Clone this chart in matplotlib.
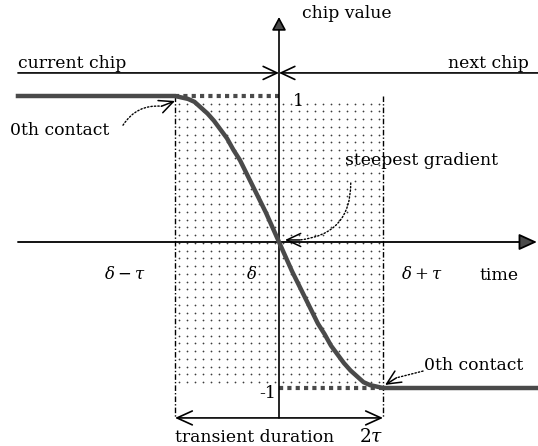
import matplotlib
matplotlib.use("Agg")
import matplotlib.pyplot as plt
import numpy as np

plt.rcParams['font.family'] = ['DejaVu Serif']
plt.rcParams['mathtext.fontset'] = 'dejavuserif'

# chip value sampled every tau/16 across the transition (delta at t=0)
t_edge = np.linspace(-1.0, 1.0, 33)
chip_edge = [1.00, 0.99, 0.98, 0.96, 0.92, 0.88, 0.83, 0.77, 0.71, 0.63, 0.56, 0.47,
             0.38, 0.29, 0.20, 0.10, 0.00, -0.10, -0.20, -0.29, -0.38, -0.47, -0.56,
             -0.63, -0.71, -0.77, -0.83, -0.88, -0.92, -0.96, -0.98, -0.99, -1.00]
t_start, t_end = -2.51, 2.49

tick_labels = [r'$\delta-\tau$', r'$\delta$', r'$\delta+\tau$']
level_labels = ['1', '-1']
chip_level = 1.158

t_curve = [t_start] + list(t_edge) + [t_end]
chip_curve = [chip_edge[0]] + chip_edge + [chip_edge[-1]]

fig = plt.figure(figsize=(5.38, 4.46), dpi=100)
ax = fig.add_axes([0, 0, 1, 1])
ax.set_xlim(-279 / 104, 259 / 104)
ax.set_ylim(-204 / 146, 242 / 146)
ax.axis('off')

ink = '#4a4a4a'
FS = 12.4

# dot screen over the transient region
gx, gy = np.meshgrid(np.arange(-0.96, 1.0, 0.077), np.arange(-0.96, 1.0, 0.053))
ax.scatter(gx.ravel(), gy.ravel(), s=1.6, color='#3c3c3c', linewidths=0)

# dash-dot borders of the transient region
for t in (-1.0, 1.0):
    ax.plot([t, t], [1.0, -1.205], color='black', lw=1.0, ls=(0, (4, 1.5, 1, 1.5)))

# thick dotted levels
ax.plot([-1.0, 0.0], [1.0, 1.0], color=ink, lw=3, ls=(0, (1, 1)), solid_capstyle='butt')
ax.plot([0.0, 1.0], [-1.0, -1.0], color=ink, lw=3, ls=(0, (1, 1)), solid_capstyle='butt')

# axes
ax.annotate('', xy=(2.48, 0), xytext=(t_start, 0),
            arrowprops=dict(arrowstyle='-|>,head_length=1.1,head_width=0.5', lw=1.3,
                            ec='black', fc=ink, shrinkA=0, shrinkB=0))
ax.annotate('', xy=(0, 1.541), xytext=(0, -1.205),
            arrowprops=dict(arrowstyle='-|>,head_length=0.8,head_width=0.43', lw=1.2,
                            ec='black', fc=ink, shrinkA=0, shrinkB=0))

# chip line with both arrows meeting at delta
open_head = '->,head_length=1.0,head_width=0.47'
ax.annotate('', xy=(0, chip_level), xytext=(t_start, chip_level),
            arrowprops=dict(arrowstyle=open_head, lw=1.2, color='black', shrinkA=0, shrinkB=0))
ax.annotate('', xy=(0, chip_level), xytext=(t_end, chip_level),
            arrowprops=dict(arrowstyle=open_head, lw=1.2, color='black', shrinkA=0, shrinkB=0))

# transient duration
ax.annotate('', xy=(-1.0, -1.205), xytext=(1.0, -1.205),
            arrowprops=dict(arrowstyle='<->,head_length=1.1,head_width=0.5', lw=1.2,
                            color='black', shrinkA=0, shrinkB=0))

# chip waveform
ax.plot(t_curve, chip_curve, color=ink, lw=3.2, solid_joinstyle='round', zorder=5)

# dotted pointers with solid heads
def pointer(start, tip, back, rad):
    ax.annotate('', xy=back, xytext=start,
                arrowprops=dict(arrowstyle='-', lw=1.0, ls=(0, (1, 1.5)), color='black',
                                connectionstyle=f'arc3,rad={rad}', shrinkA=0, shrinkB=0))
    ax.annotate('', xy=tip, xytext=back,
                arrowprops=dict(arrowstyle=open_head, lw=1.1, color='black',
                                shrinkA=0, shrinkB=0))

pointer((-1.50, 0.80), (-1.0, 0.966), (-1.13, 0.93), -0.3)
pointer((0.69, 0.404), (0.058, 0.014), (0.20, 0.014), -0.45)
pointer((1.385, -0.884), (1.02, -0.979), (1.13, -0.93), 0.0)

# text
ax.text(t_start, 1.195, 'current chip', fontsize=FS, ha='left', va='baseline')
ax.text(2.40, 1.195, 'next chip', fontsize=FS, ha='right', va='baseline')
ax.text(0.22, 1.534, 'chip value', fontsize=FS, ha='left', va='baseline')
ax.text(-2.59, 0.733, '0th contact', fontsize=FS, ha='left', va='baseline')
ax.text(1.39, -0.877, '0th contact', fontsize=FS, ha='left', va='baseline')
ax.text(0.63, 0.527, 'steepest gradient', fontsize=FS, ha='left', va='baseline')
ax.text(2.115, -0.26, 'time', fontsize=FS, ha='center', va='baseline')
ax.text(0.13, 0.932, level_labels[0], fontsize=FS, ha='left', va='baseline')
ax.text(-0.11, -1.068, level_labels[1], fontsize=FS, ha='center', va='baseline')
ax.text(-1.0, -1.37, 'transient duration', fontsize=FS, ha='left', va='baseline')
ax.text(1.0, -1.37, r'$2\tau$', fontsize=FS + 1, ha='right', va='baseline')

label_x = [-1.48, -0.26, 1.375]
for x, s in zip(label_x, tick_labels):
    ax.text(x, -0.253, s, fontsize=FS - 0.5, ha='center', va='baseline')

fig.savefig('out.png', dpi=100)
